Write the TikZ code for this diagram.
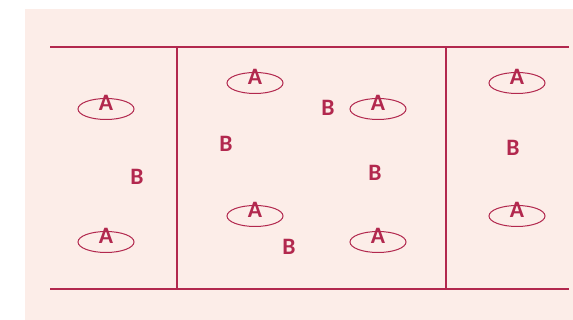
\documentclass[tikz,border=0pt]{standalone}
\usepackage{fontspec}
\setmainfont{Carlito}
\usetikzlibrary{shapes.geometric}
\definecolor{wine}{RGB}{178,40,78}
\definecolor{blush}{RGB}{252,237,232}
\tikzset{
  wall/.style={draw=wine, line width=2.2pt},
  aring/.style={ellipse, draw=wine, line width=1pt, text=wine, minimum width=56pt,
      minimum height=21pt, inner sep=0pt, text height=3pt, text depth=0pt,
      font=\fontsize{23.5}{23.5}\selectfont\bfseries},
  bmark/.style={text=wine, inner sep=0pt, font=\fontsize{23.5}{23.5}\selectfont\bfseries},
}
\begin{document}
\begin{tikzpicture}[x=1pt, y=-1pt]
  \useasboundingbox (0,0) rectangle (573,320);
  \fill[blush] (25,9) rectangle (573,320);
  % walls
  \draw[wall] (50,47) -- (569,47);
  \draw[wall] (50,289) -- (569,289);
  \draw[wall] (177,47) -- (177,289);
  \draw[wall] (446,47) -- (446,289);
  % left cell
  \node[aring] (a1) at (106,109) {A};
  \node[aring] (a2) at (106,242) {A};
  \node[bmark] (b1) at (137,177) {B};
  % middle cell
  \node[aring] (a3) at (255,83) {A};
  \node[aring] (a4) at (378,109) {A};
  \node[aring] (a5) at (255,216) {A};
  \node[aring] (a6) at (378,242) {A};
  \node[bmark] (b2) at (328,108) {B};
  \node[bmark] (b3) at (226,144) {B};
  \node[bmark] (b4) at (375,173) {B};
  \node[bmark] (b5) at (289,247) {B};
  % right cell
  \node[aring] (a7) at (517,83) {A};
  \node[aring] (a8) at (517,216) {A};
  \node[bmark] (b6) at (513,148) {B};
\end{tikzpicture}
\end{document}
